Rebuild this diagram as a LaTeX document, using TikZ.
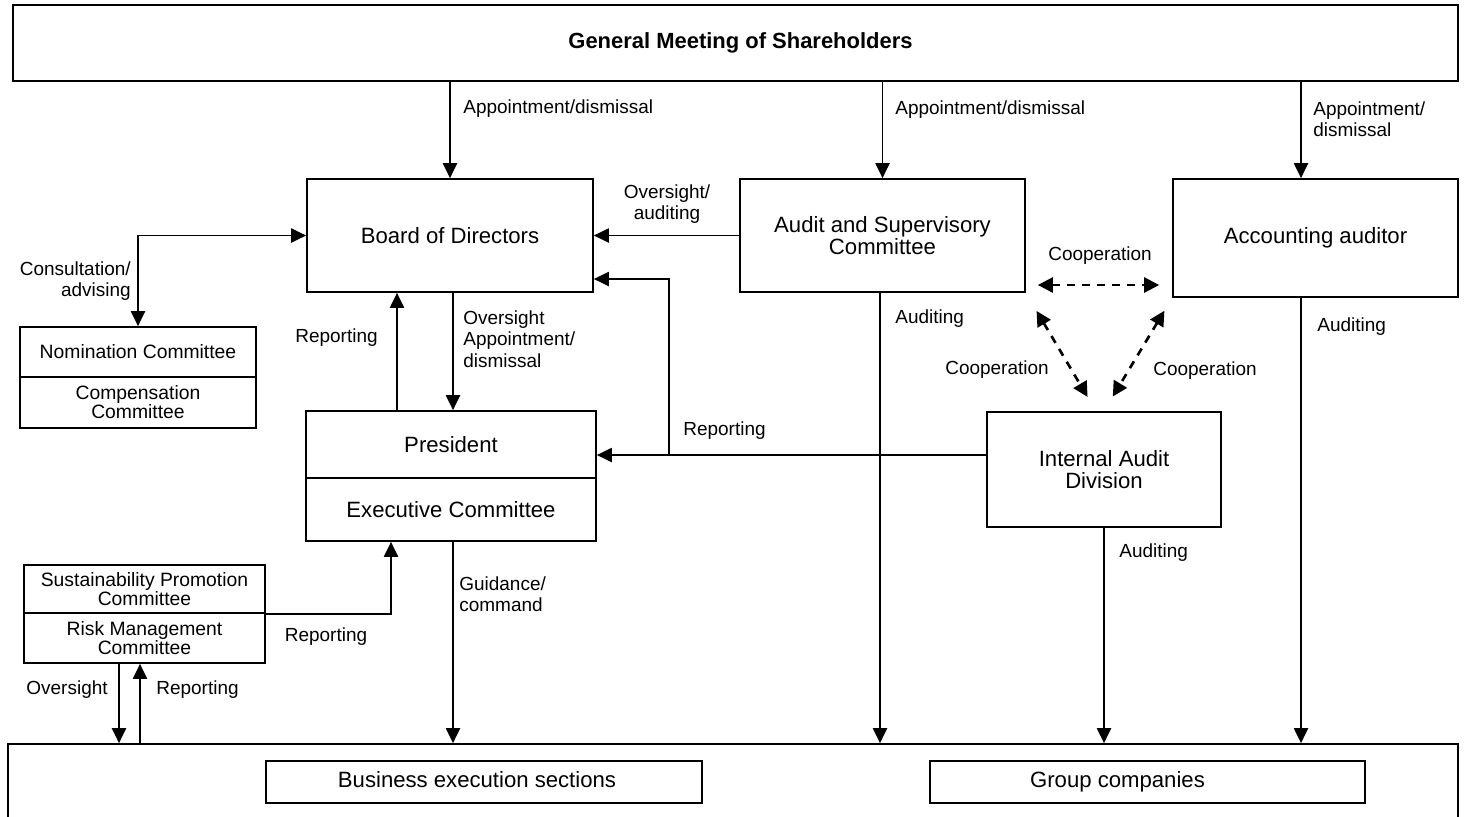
\documentclass[tikz,border=0pt]{standalone}
\usepackage{fontspec}
\setmainfont{Liberation Sans}
\usetikzlibrary{positioning, arrows.meta, calc}
\tikzstyle{orgbox} =[draw, line width=1pt, align=center, inner sep=0pt, font=\fontsize{12.6}{13}\selectfont]
\tikzstyle{subbox} =[orgbox, font=\fontsize{11}{10.8}\selectfont]
\tikzstyle{lbl} =[align=left, inner sep=0pt, font=\fontsize{10.8}{12.2}\selectfont]
\tikzstyle{flow} =[-{Triangle[length=8.5pt, width=8pt]}, line width=1pt]
\tikzstyle{coop} =[{Triangle[length=8.5pt, width=8.5pt]}-{Triangle[length=8.5pt, width=8.5pt]}, line width=1.5pt, dash pattern=on 4.5pt off 4pt]

\begin{document}
\begin{tikzpicture}[x=0.02cm, y=-0.02cm]
\useasboundingbox (0,0) rectangle (1467,816);

\node (genMeeting) [orgbox, minimum width=28.9cm, minimum height=1.52cm, font=\fontsize{12.5}{13}\selectfont\bfseries] at (735.5,43) {\hspace{0.2cm}General Meeting of Shareholders};

\node (board) [orgbox, minimum width=5.72cm, minimum height=2.26cm] at (450,235.5) {Board of Directors};
\node (auditComm) [orgbox, minimum width=5.7cm, minimum height=2.26cm] at (882.5,235.5) {Audit and Supervisory\\Committee};
\node (accAuditor) [orgbox, minimum width=5.7cm, minimum height=2.36cm] at (1315.5,238) {Accounting auditor};

\node (nomComm) [subbox, minimum width=4.72cm, minimum height=1cm] at (138,352) {Nomination Committee};
\node (compComm) [subbox, minimum width=4.72cm, minimum height=1.02cm, below=-1pt of nomComm] {Compensation\\Committee};

\node (president) [orgbox, minimum width=5.8cm, minimum height=1.34cm] at (451,444.5) {President};
\node (execComm) [orgbox, minimum width=5.8cm, minimum height=1.26cm, below=-1pt of president] {Executive Committee};

\node (intAudit) [orgbox, minimum width=4.68cm, minimum height=2.3cm] at (1104,469.5) {Internal Audit\\Division};

\node (susComm) [subbox, minimum width=4.82cm, minimum height=0.96cm] at (144.5,589) {Sustainability Promotion\\Committee};
\node (riskComm) [subbox, minimum width=4.82cm, minimum height=1cm, below=-1pt of susComm] {Risk Management\\Committee};

\node (groupBase) [draw, line width=1pt, inner sep=0pt, minimum width=29cm, minimum height=1.84cm] at (733,790) {};
\node (busExec) [orgbox, minimum width=8.72cm, minimum height=0.84cm, text depth=0.3em] at (484,782) {Business execution sections\hspace{0.28cm}};
\node (groupComp) [orgbox, minimum width=8.7cm, minimum height=0.84cm, text depth=0.3em] at (1147.5,782) {Group companies\hspace{1.2cm}};

% appointment from the shareholders
\draw[flow] (genMeeting.south -| board.north) -- (board.north);
\draw[flow] (genMeeting.south -| auditComm.north) -- (auditComm.north);
\draw[flow] (genMeeting.south -| 1301,0) -- (accAuditor.north -| 1301,0);
\node (appBoard) [lbl, anchor=west] at (463,109) {Appointment/dismissal};
\node (appAudit) [lbl, anchor=west] at (895,110) {Appointment/dismissal};
\node (appAcc) [lbl, anchor=west] at (1313,119) {Appointment/\\dismissal};

% board and committees
\draw[flow] (auditComm.west) -- (board.east);
\node (oversightAud) [lbl, align=center] at (667,204) {Oversight/\\auditing};
\draw[flow, {Triangle[length=8.5pt, width=8pt]}-{Triangle[length=8.5pt, width=8pt]}] (nomComm.north) |- (board.west);
\node (consult) [lbl, align=right, anchor=east] at (131,281) {Consultation/\\advising};

\draw[flow] (president.north -| 397,0) -- (board.south -| 397,0);
\node (repBoard) [lbl, anchor=east] at (378,338) {Reporting};
\draw[flow] (board.south -| 453,0) -- (president.north -| 453,0);
\node (oversightPres) [lbl, anchor=west] at (463,339) {Oversight\\Appointment/\\dismissal};

% internal audit reporting
\coordinate (repJunc) at (669,455);
\draw[flow] (intAudit.west |- 0,455) -- (president.east |- 0,455);
\draw[flow] (repJunc) |- (board.east |- 0,279);
\node (repAudit) [lbl, anchor=west] at (683,431) {Reporting};

% auditing
\draw[flow] (auditComm.south -| 880,0) -- (groupBase.north -| 880,0);
\node (audAsc) [lbl, anchor=west] at (895,319) {Auditing};
\draw[flow] (accAuditor.south -| 1301,0) -- (groupBase.north -| 1301,0);
\node (audAcc) [lbl, anchor=west] at (1317,327) {Auditing};
\draw[flow] (intAudit.south) -- (groupBase.north -| intAudit.south);
\node (audIad) [lbl, anchor=west] at (1119,553) {Auditing};

% cooperation
\draw[coop, shorten <=0.24cm, shorten >=0.26cm] (auditComm.east |- 0,285) -- (accAuditor.west |- 0,285);
\node (coopTop) [lbl] at (1100,256) {Cooperation};
\draw[coop, shorten <=0.42cm, shorten >=0.33cm] (auditComm.south east) -- ([xshift=-0.16cm]intAudit.north);
\node (coopLeft) [lbl] at (997,370) {Cooperation};
\draw[coop, shorten <=0.3cm, shorten >=0.34cm] (accAuditor.south west) -- (intAudit.north);
\node (coopRight) [lbl] at (1205,371) {Cooperation};

% execution
\draw[flow] (execComm.south -| 453,0) -- (groupBase.north -| 453,0);
\node (guidance) [lbl, anchor=west] at (459,594) {Guidance/\\command};
\draw[flow] (susComm.south east) -| (execComm.south -| 391,0);
\node (repSus) [lbl] at (326,637) {Reporting};
\draw[flow] (riskComm.south -| 119,0) -- (groupBase.north -| 119,0);
\node (overRisk) [lbl, anchor=east] at (108,690) {Oversight};
\draw[flow] (groupBase.north -| 140,0) -- (riskComm.south -| 140,0);
\node (repRisk) [lbl, anchor=west] at (156,690) {Reporting};
\end{tikzpicture}
\end{document}
